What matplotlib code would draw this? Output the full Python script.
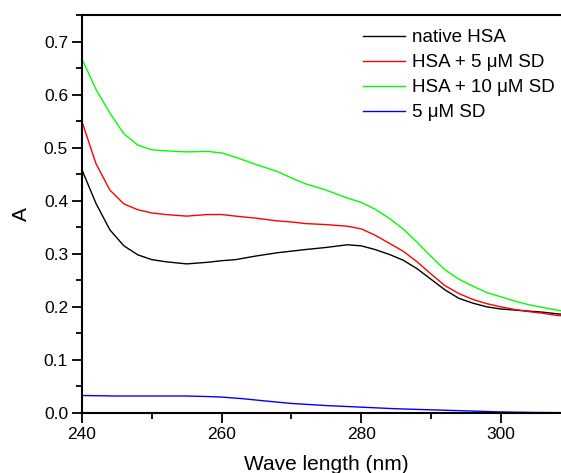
import matplotlib
matplotlib.use("Agg")
import matplotlib.pyplot as plt
from matplotlib.ticker import MultipleLocator

plt.rcParams['font.family'] = ['Liberation Sans', 'DejaVu Sans']

wl = [240, 242, 244, 246, 248, 250, 252, 255, 258, 260, 262, 265, 268, 270, 272, 275,
      278, 280, 282, 284, 286, 288, 290, 292, 294, 296, 298, 300, 302, 304, 306, 308, 310]

native_hsa = [0.458, 0.395, 0.345, 0.315, 0.298, 0.289, 0.285, 0.281, 0.284, 0.287, 0.289,
              0.296, 0.302, 0.305, 0.308, 0.312, 0.317, 0.315, 0.308, 0.299, 0.288, 0.272,
              0.252, 0.232, 0.216, 0.207, 0.200, 0.196, 0.194, 0.192, 0.190, 0.187, 0.185]

hsa_5sd = [0.549, 0.470, 0.420, 0.394, 0.383, 0.377, 0.374, 0.371, 0.374, 0.374, 0.371,
           0.367, 0.362, 0.360, 0.357, 0.355, 0.352, 0.347, 0.335, 0.320, 0.305, 0.285,
           0.262, 0.240, 0.225, 0.214, 0.206, 0.200, 0.195, 0.191, 0.188, 0.184, 0.182]

hsa_10sd = [0.667, 0.610, 0.565, 0.526, 0.505, 0.496, 0.494, 0.492, 0.493, 0.490, 0.482,
            0.468, 0.455, 0.443, 0.432, 0.420, 0.405, 0.397, 0.384, 0.367, 0.347, 0.322,
            0.295, 0.270, 0.252, 0.239, 0.227, 0.219, 0.211, 0.204, 0.199, 0.194, 0.190]

wl_sd = [240, 245, 250, 255, 258, 260, 263, 266, 270, 275, 280, 285, 290, 295, 300, 305, 310]
sd_5 = [0.033, 0.032, 0.032, 0.032, 0.031, 0.030, 0.027, 0.023, 0.018, 0.014, 0.011,
        0.008, 0.006, 0.004, 0.002, 0.001, 0.0005]

labels = ["native HSA", "HSA + 5 \u03bcM SD", "HSA + 10 \u03bcM SD", "5 \u03bcM SD"]

W, H = 561, 473
fig = plt.figure(figsize=(W / 100, H / 100), dpi=100)
ax = fig.add_axes([82 / W, (H - 413) / H, (570.6 - 82) / W, (413 - 15) / H])

ax.plot(wl, native_hsa, color='black', lw=1.0, label=labels[0])
ax.plot(wl, hsa_5sd, color='#ff0000', lw=1.0, label=labels[1])
ax.plot(wl, hsa_10sd, color='#00ff00', lw=1.0, label=labels[2])
ax.plot(wl_sd, sd_5, color='#0000ff', lw=1.0, label=labels[3])

ax.set_xlim(240, 310)
ax.set_ylim(0, 0.75)
ax.xaxis.set_major_locator(MultipleLocator(20))
ax.xaxis.set_minor_locator(MultipleLocator(10))
ax.yaxis.set_major_locator(MultipleLocator(0.1))
ax.yaxis.set_minor_locator(MultipleLocator(0.05))
ax.yaxis.set_major_formatter(plt.FuncFormatter(lambda v, p: f"{v:.1f}"))
ax.tick_params(which='both', direction='out', top=False, right=False, labelsize=12.5, width=1.3)
ax.tick_params(which='major', length=7, pad=3)
ax.tick_params(which='minor', length=4.5)
for s in ax.spines.values():
    s.set_linewidth(1.5)
ax.spines['right'].set_visible(False)

fig.text(326 / W, 1 - 464 / H, "Wave length (nm)", ha='center', va='center', fontsize=15)
fig.text(21 / W, 1 - 214 / H, "A", ha='center', va='center', rotation=90, fontsize=15)

fig.legend(loc='upper left', bbox_to_anchor=(363 / W, 1 - 29 / H), frameon=False,
           fontsize=13.5, handlelength=2.24, handletextpad=0.37, labelspacing=0.42,
           borderpad=0, borderaxespad=0)

fig.savefig("out.png", dpi=100)
